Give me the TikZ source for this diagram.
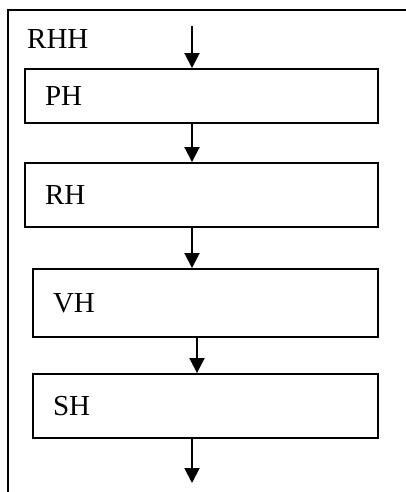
\documentclass[tikz,border=0pt]{standalone}
\usepackage{fontspec}
\setmainfont{Liberation Serif}
\usetikzlibrary{arrows.meta}

\tikzset{
  hbox/.style={draw, line width=1.9pt, rectangle, align=left, inner xsep=20pt,
    font=\fontsize{29}{32}\selectfont},
  flow/.style={line width=1.9pt, -{Triangle[width=15pt,length=15pt]}},
  frame/.style={line width=1.9pt}
}

\begin{document}
\begin{tikzpicture}[x=1pt,y=-1pt]
    \useasboundingbox (0,0) rectangle (406,492);
    % frame
    \draw[frame] (406,10) -- (8,10) -- (8,492);
    \node[anchor=base west, inner sep=0pt, font=\fontsize{29}{32}\selectfont] (rhh) at (27,49) {RHH};
    % stages
    \node[hbox, text width=313pt, minimum height=54pt] (ph) at (201.5,96) {PH};
    \node[hbox, text width=313pt, minimum height=64pt] (rh) at (201.5,195) {RH};
    \node[hbox, text width=305pt, minimum height=68pt] (vh) at (205.5,303) {VH};
    \node[hbox, text width=305pt, minimum height=64pt] (sh) at (205.5,406) {SH};
    \coordinate (in) at (192,26);
    \coordinate (out) at (192,483);
    %\draw[help lines] (0,0) grid (406,492);
    \draw[flow] (in) -- (in |- ph.north);
    \draw[flow] (in |- ph.south) -- (in |- rh.north);
    \draw[flow] (in |- rh.south) -- (in |- vh.north);
    \draw[flow] ([xshift=-8.5pt]vh.south) -- ([xshift=-8.5pt]sh.north);
    \draw[flow] (out |- sh.south) -- (out);
\end{tikzpicture}
\end{document}
